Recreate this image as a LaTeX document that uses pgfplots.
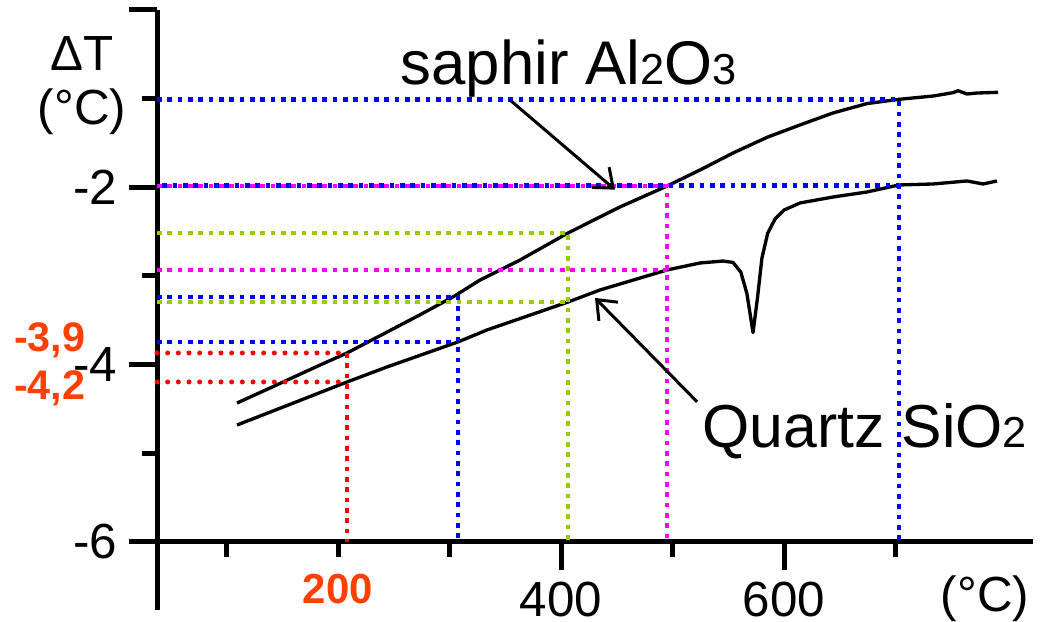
\documentclass[border=0pt]{standalone}
\usepackage{fontspec}
\setmainfont{Liberation Sans}
\usepackage{pgfplots}
\pgfplotsset{compat=1.18}
\usetikzlibrary{arrows.meta}
\definecolor{labred}{RGB}{255,64,0}
\definecolor{dotblue}{RGB}{0,0,255}
\definecolor{dotmag}{RGB}{255,0,255}
\definecolor{dotgreen}{RGB}{153,204,0}
\definecolor{dotred}{RGB}{255,0,0}
\newcommand{\sub}[1]{{\fontsize{13}{13}\selectfont #1}}

\begin{document}
\begin{tikzpicture}[
  sq/.style={line width=1.4pt, dash pattern=on 1.4pt off 1.7pt},
  rd/.style={line width=1.5pt, line cap=round, dash pattern=on 0pt off 3.2pt},
  curve/.style={black, line width=1pt, line join=round, no marks},
]
\begin{axis}[
  at={(0,0)}, anchor=south west,
  scale only axis, width=262.8pt, height=159.75pt,
  xmin=37.67, xmax=823.3, ymin=-6, ymax=0,
  axis x line=bottom, axis y line=left,
  axis line style={-, line width=1.5pt},
  tick align=outside,
  xtick={400,600}, xticklabels={400,600},
  minor xtick={100,300,500,700},
  extra x ticks={200}, extra x tick labels={200},
  extra x tick style={major tick length=4.5pt,
    tick label style={text=labred, yshift=-1.5pt, font=\fontsize{12.6}{14}\selectfont\bfseries}},
  ytick={-6,-4,-2,0}, yticklabels={-6,-4,-2,{}},
  minor ytick={-5,-3,-1},
  major tick length=8.5pt, minor tick length=4.5pt,
  every tick/.style={black, line width=1.5pt},
  tick label style={font=\fontsize{14.8}{16}\selectfont},
  clip=false,
]
% saphir Al2O3
\addplot[curve] coordinates {
 (109.4,-4.434) (139.0,-4.265) (183.9,-4.006) (208.1,-3.870) (228.7,-3.735)
 (273.5,-3.440) (303.1,-3.239) (327.4,-3.048) (363.2,-2.823) (406.3,-2.518)
 (452.9,-2.225) (495.1,-1.989) (524.7,-1.808) (554.3,-1.617) (584.8,-1.440)
 (614.3,-1.301) (643.9,-1.166) (674.4,-1.060) (703.1,-1.012) (733.6,-0.975)
 (751.6,-0.937) (756.1,-0.915) (764.1,-0.952) (773.1,-0.941) (791.9,-0.933)};
% quartz SiO2
\addplot[curve] coordinates {
 (109.4,-4.682) (154.3,-4.462) (208.1,-4.197) (243.9,-4.028) (307.6,-3.746)
 (333.6,-3.611) (406.3,-3.296) (435.0,-3.160) (495.1,-2.935) (524.7,-2.856)
 (545.3,-2.834) (554.3,-2.850) (561.3,-2.960) (566.7,-3.200) (572.2,-3.640)
 (576.2,-3.250) (580.2,-2.800) (585.4,-2.520) (592.0,-2.360) (600.1,-2.259)
 (614.3,-2.180) (643.9,-2.113) (674.4,-2.056) (703.1,-1.977) (733.6,-1.966)
 (764.1,-1.932) (778.5,-1.966) (791.0,-1.932)};

% reading lines
\addplot[rd, dotred] coordinates {(37.67,-3.87) (208.1,-3.87)};
\addplot[rd, dotred] coordinates {(37.67,-4.197) (208.1,-4.197)};
\addplot[sq, dotred] coordinates {(208.1,-3.87) (208.1,-6)};
\addplot[sq, dotblue] coordinates {(37.67,-3.746) (307.6,-3.746)};
\addplot[sq, dotblue] coordinates {(37.67,-3.239) (307.6,-3.239) (307.6,-6)};
\addplot[sq, dotgreen] coordinates {(37.67,-3.296) (406.3,-3.296)};
\addplot[sq, dotgreen] coordinates {(37.67,-2.518) (406.3,-2.518) (406.3,-6)};
\addplot[sq, dotmag] coordinates {(37.67,-2.935) (495.1,-2.935)};
\addplot[sq, dotmag] coordinates {(37.67,-1.989) (495.1,-1.989) (495.1,-6)};
\addplot[sq, dotblue, dash phase=1.5pt] coordinates {(37.67,-1.985) (703.1,-1.985)};
\addplot[sq, dotblue] coordinates {(37.67,-1.012) (703.1,-1.012) (703.1,-6)};

% axis extension below the x axis
\draw[line width=1.5pt] (axis cs:37.67,-6) -- (axis cs:37.67,-6.77);

% arrows and names
\draw[line width=0.9pt, -{Straight Barb[length=5pt,width=8pt]}]
  (axis cs:354.3,-1.02) -- (axis cs:448.4,-2.03);
\draw[line width=0.9pt, -{Straight Barb[length=5pt,width=8pt]}]
  (axis cs:522,-4.42) -- (axis cs:430.5,-3.25);
\node[anchor=base west, inner sep=0pt, font=\fontsize{18.5}{20}\selectfont]
  at (axis cs:255.6,-0.85) {saphir Al\sub{2}O\sub{3}};
\node[anchor=base west, inner sep=0pt, font=\fontsize{18.2}{20}\selectfont]
  at (axis cs:526.5,-4.94) {Quartz SiO\sub{2}};

% axis labels
\node[anchor=base, inner sep=0pt, font=\fontsize{14.8}{16}\selectfont]
  at (axis cs:-29.6,-0.682) {ΔT};
\node[anchor=base, inner sep=0pt, font=\fontsize{14.8}{16}\selectfont]
  at (axis cs:-29.6,-1.301) {(°C)};
\node[anchor=base, inner sep=0pt, font=\fontsize{14.8}{16}\selectfont]
  at (axis cs:780.3,-6.78) {(°C)};

% marked readings
\node[anchor=base, inner sep=0pt, text=labred, font=\fontsize{12.4}{14}\selectfont\bfseries]
  at (axis cs:-58.5,-3.85) {-3,9};
\node[anchor=base, inner sep=0pt, text=labred, font=\fontsize{12.4}{14}\selectfont\bfseries]
  at (axis cs:-58.5,-4.40) {-4,2};
\end{axis}
\pgfresetboundingbox
\path[use as bounding box] (-47.1pt,-24pt) rectangle (265.2pt,162.6pt);
\end{tikzpicture}
\end{document}
